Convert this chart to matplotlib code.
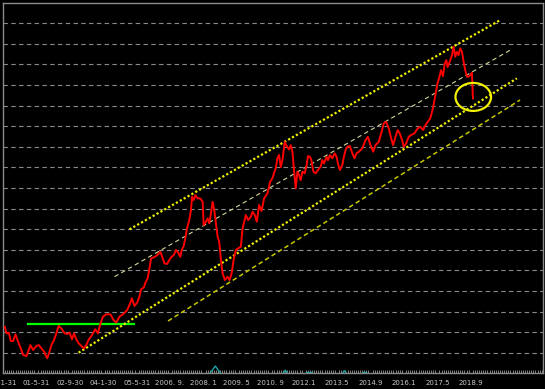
import matplotlib
matplotlib.use("Agg")
import matplotlib.pyplot as plt
import matplotlib.ticker as ticker
from matplotlib.patches import Ellipse
import numpy as np

# x = months since 2000-01, y = price level (one grid step = 1 unit)
months = [0.86, 1.67, 2.77, 3.73, 4.87, 5.97, 7.26, 8.50, 9.65, 11.22, 12.04, 13.13, 14.42, 16.0,
          17.10, 18.39, 19.68, 21.11, 22.07, 23.16, 24.45, 25.55, 26.65, 27.94, 29.52, 30.81, 31.90,
          33.05, 34.01, 35.10, 36.20, 37.49, 38.78, 39.88, 40.98, 42.60, 44.18, 45.47, 46.42, 47.86,
          49.43, 51.49, 52.92, 54.21, 55.78, 57.41, 59.46, 60.89, 61.71, 62.95, 64.24, 65.34, 66.15,
          67.44, 68.20, 69.35, 70.11, 70.92, 72.21, 73.31, 74.41, 75.37, 76.51, 77.28, 78.57, 79.66,
          80.48, 81.77, 82.86, 83.96, 84.92, 85.59, 86.54, 87.31, 88.12, 89.22, 90.03, 90.51, 91.32,
          92.08, 93.23, 94.47, 95.62, 96.09, 97.19, 98.00, 98.77, 99.58, 100.39, 101.16, 101.97,
          102.78, 103.54, 104.36, 105.17, 106.27, 107.56, 108.51, 109.47, 110.42, 111.52, 112.62,
          113.91, 114.72, 116.30, 117.39, 118.68, 119.50, 120.59, 121.55, 122.65, 123.79, 125.04,
          126.66, 127.90, 129.05, 130.62, 131.44, 132.20, 133.01, 133.82, 134.92, 135.88, 136.98,
          137.79, 138.60, 139.36, 140.18, 140.99, 141.75, 142.56, 143.38, 144.47, 145.43, 146.05,
          147.01, 147.67, 148.63, 149.73, 150.83, 152.11, 152.93, 153.69, 154.98, 155.60, 156.56,
          157.70, 158.80, 159.76, 160.38, 161.33, 162.48, 163.24, 164.05, 165.01, 166.11, 167.26,
          168.35, 169.31, 170.41, 172.03, 173.61, 174.71, 176.0, 177.29, 178.38, 179.96, 181.11,
          182.35, 183.49, 184.74, 185.88, 186.84, 187.94, 189.03, 189.99, 191.14, 191.90, 193.05,
          194.29, 195.43, 197.01, 198.59, 199.87, 201.17, 202.26, 203.36, 204.65, 205.94, 207.04,
          207.99, 209.09, 209.76, 210.72, 211.48, 212.29, 212.91, 213.87, 215.02, 215.78, 216.59,
          217.40, 218.17, 218.98, 219.79, 220.56, 221.36, 222.18, 222.94, 223.76, 224.57, 225.05]
price = [2.26, 1.94, 1.97, 1.57, 1.57, 1.89, 1.53, 1.21, 0.89, 0.84, 1.05, 1.37, 1.13, 1.33,
         1.37, 1.21, 1.05, 0.73, 0.97, 1.37, 1.62, 1.94, 2.30, 2.18, 1.94, 1.91, 1.97,
         1.65, 1.94, 1.65, 1.46, 1.33, 1.21, 1.37, 1.62, 1.86, 2.14, 1.94, 2.34, 2.75,
         2.86, 2.86, 2.59, 2.46, 2.75, 2.86, 3.07, 3.40, 3.64, 3.27, 3.43, 3.72, 4.08,
         4.17, 4.40, 4.63, 5.10, 5.58, 5.63, 5.69, 5.79, 5.90, 5.58, 5.34, 5.31, 5.50,
         5.63, 5.74, 5.99, 5.85, 5.66, 5.99, 6.18, 6.55, 7.04, 7.44, 7.93, 8.57, 8.41,
         8.65, 8.49, 8.49, 8.33, 7.20, 7.36, 7.52, 7.28, 7.77, 8.33, 7.93, 7.28,
         6.63, 6.39, 5.50, 4.85, 4.53, 4.69, 4.53, 4.85, 5.50, 5.99, 6.07,
         6.15, 7.04, 7.68, 7.44, 7.60, 7.84, 7.68, 7.36, 8.17, 7.88, 8.49,
         8.74, 9.29, 9.48, 9.97, 10.45, 10.60, 10.01, 10.35, 11.24, 11.03, 10.87,
         11.08, 10.76, 9.87, 8.98, 9.79, 9.63, 9.38, 9.79, 9.71, 10.11, 10.55,
         10.51, 10.35, 9.79, 9.71, 9.87, 10.03, 10.35, 10.19, 10.51, 10.35, 10.60,
         10.44, 10.68, 10.51, 10.19, 9.87, 10.11, 10.51, 10.84, 11.01, 11.03, 10.69,
         10.44, 10.68, 10.76, 10.92, 11.32, 11.48, 11.08, 10.76, 11.08, 11.24, 11.65,
         12.14, 12.21, 11.89, 11.41, 11.08, 11.48, 11.81, 11.65, 11.32, 11.00, 11.16,
         11.48, 11.57, 11.65, 11.89, 11.97, 11.81, 12.05, 12.21, 12.39, 12.88, 13.51,
         14.04, 14.43, 14.72, 14.43, 15.01, 15.21, 14.87, 15.11, 15.45, 15.85, 15.37,
         15.61, 15.45, 15.78, 15.61, 15.13, 14.72, 14.40, 14.40, 14.48, 14.59, 13.35]

# channel lines: (start month, start level, end month, end level)
upper_line = [60.56, 6.99, 237.6, 17.12]
middle_line = [53.4, 4.69, 242.85, 15.69]
lower_line = [36.2, 1.00, 246.06, 14.32]
bottom_line = [79.04, 2.54, 247.6, 13.27]
support_x = [12.04, 62.95]
support_y = 2.39
circle = [225.2, 13.42, 17.05, 1.36]  # center x, center y, width, height

# small indicator bumps near the baseline
ind_x = [[99.1, 101.7, 104.2], [134.2, 135.2, 136.2], [145.0, 147.8], [162.6, 163.6, 164.5], [172.4, 173.6]]
ind_y = [[0.0, 0.35, 0.0], [0.0, 0.15, 0.0], [0.05, 0.05], [0.0, 0.12, 0.0], [0.04, 0.04]]

tick_pos = [0, 16, 32, 48, 64, 80, 96, 112, 128, 144, 160, 176, 192, 208, 224]
tick_labels = ["00-1-31", "01-5-31", "02-9-30", "04-1-30", "05-5-31", "2006. 9.", "2008. 1",
               "2009. 5", "2010. 9", "2012.1", "2013.5", "2014.9", "2016.1", "2017.5", "2018.9"]

fig = plt.figure(figsize=(5.45, 3.89), dpi=100, facecolor="black")
ax = fig.add_axes([3 / 545, (389 - 373.3) / 389, 540 / 545, 370.3 / 389])
ax.set_facecolor("black")

for y in range(1, 18):
    ax.axhline(y, color="#8a8a8a", lw=0.8, ls=(0, (4, 3)), zorder=1)

for xs, ys in zip(ind_x, ind_y):
    ax.plot(xs, ys, color="#1aa3a3", lw=1.0, zorder=2)

ax.plot(support_x, [support_y, support_y], color="#00ff00", lw=1.6, zorder=3)
ax.plot(upper_line[0::2], upper_line[1::2], color="#f0f000", lw=1.6, ls=(0, (1, 1)), zorder=3)
ax.plot(lower_line[0::2], lower_line[1::2], color="#f0f000", lw=1.6, ls=(0, (1, 1)), zorder=3)
ax.plot(middle_line[0::2], middle_line[1::2], color="#d6d69a", lw=0.8, ls=(0, (4, 3)), zorder=3)
ax.plot(bottom_line[0::2], bottom_line[1::2], color="#c8c800", lw=1.1, ls=(0, (3, 2)), zorder=3)

ax.plot(months, price, color="#ff0000", lw=1.4, zorder=4)

ax.add_patch(Ellipse((circle[0], circle[1]), circle[2], circle[3], fill=False,
                     edgecolor="#f0f000", lw=1.6, zorder=5))

ax.set_xlim(0.72, 258.6)
ax.set_ylim(0, 17.98)
ax.set_yticks([])
ax.set_xticks(tick_pos)
ax.set_xticklabels(tick_labels)
ax.xaxis.set_minor_locator(ticker.MultipleLocator(1))
ax.tick_params(axis="x", which="major", length=0, pad=5, labelsize=5, labelcolor="#c8c8c8")
ax.tick_params(axis="x", which="minor", length=2, width=0.6, direction="in", color="#9a9a9a")
for s in ax.spines.values():
    s.set_color("#8a8a8a")
    s.set_linewidth(1.0)

fig.savefig("out.png", dpi=100, facecolor="black")
